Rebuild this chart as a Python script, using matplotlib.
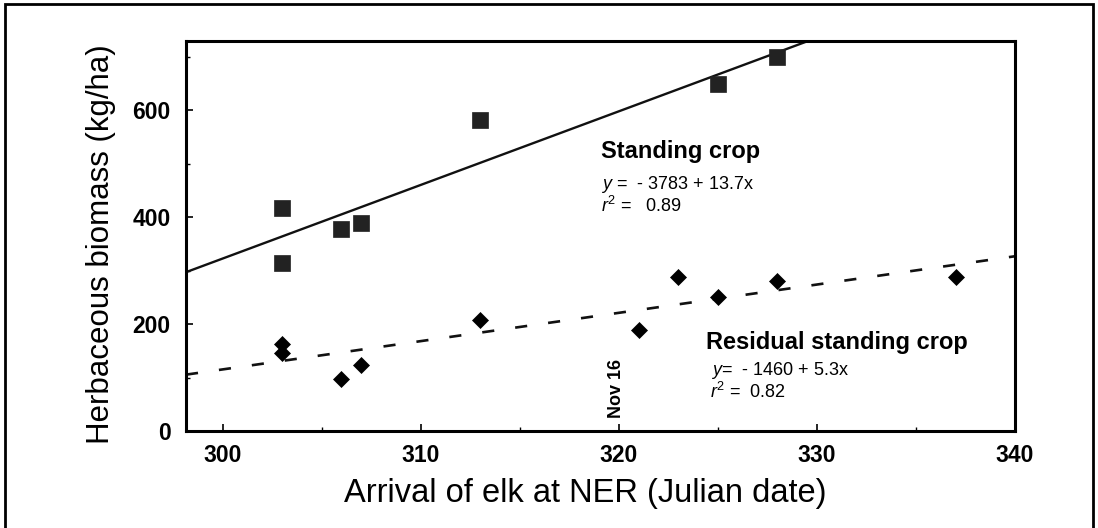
import numpy as np
import matplotlib
matplotlib.use("Agg")
import matplotlib.pyplot as plt
from matplotlib.patches import Rectangle

plt.rcParams['font.family'] = ['Liberation Sans', 'DejaVu Sans']
plt.rcParams['mathtext.fontset'] = 'custom'
plt.rcParams['mathtext.rm'] = 'Liberation Sans'
plt.rcParams['mathtext.it'] = 'Liberation Sans:italic'

# standing crop (squares)
sc_x = [303, 303, 306, 307, 313, 325, 328]
sc_y = [417, 315, 378, 389, 582, 650, 700]
# residual standing crop (diamonds)
rs_x = [303, 303, 306, 307, 313, 321, 323, 325, 328, 337]
rs_y = [162, 146, 97, 124, 207, 189, 289, 250, 280, 288]

xticks = [300, 310, 320, 330, 340]
yticks = [0, 200, 400, 600]

fig = plt.figure(figsize=(10.98, 5.28), dpi=100)
ax = fig.add_axes([0.1694, 0.1837, 0.755, 0.7386])

xmin, xmax = 298.15, 340
xx = np.linspace(xmin, xmax, 100)

# regression lines
p1 = np.polyfit(sc_x, sc_y, 1)
p2 = np.polyfit(rs_x, rs_y, 1)
ax.plot(xx, np.polyval(p1, xx), color='#111111', lw=1.7)
ax.plot(xx, np.polyval(p2, xx), color='#111111', lw=1.9, dashes=(4.6, 8))

ax.plot(sc_x, sc_y, 's', color='#222222', ms=11, mec='#222222', mew=0.5)
ax.plot(rs_x, rs_y, 'D', color='black', ms=8.3, mec='black', mew=0.5)

ax.set_xlim(xmin, xmax)
ax.set_ylim(0, 730)
ax.set_xticks(xticks)
ax.set_xticks(np.arange(305, 340, 10), minor=True)
ax.set_yticks(yticks)
ax.set_yticks([100, 300, 500, 700], minor=True)
ax.tick_params(axis='both', which='major', direction='in', length=5, width=1.2,
               labelsize=16.5, pad=9)
ax.tick_params(axis='y', which='major', pad=11)
ax.tick_params(axis='both', which='minor', direction='in', length=3, width=1.0)
for lab in ax.get_xticklabels() + ax.get_yticklabels():
    lab.set_fontweight('bold')
for s in ax.spines.values():
    s.set_linewidth(2.2)

ax.set_xlabel('Arrival of elk at NER (Julian date)', fontsize=23.5, labelpad=8)
ax.set_ylabel('Herbaceous biomass (kg/ha)', fontsize=22.5, labelpad=12)
ax.xaxis.label.set_x(0.482)
ax.yaxis.label.set_y(0.48)

ax.text(319.11, 524, 'Standing crop', fontsize=17, fontweight='bold', va='center')
ax.text(319.11, 462, r'$\it{y}$ =  - 3783 + 13.7x', fontsize=13, va='center')
ax.text(319.11, 421, r'$\it{r}^2$ =   0.89', fontsize=13, va='center')
ax.text(324.41, 166, 'Residual standing crop', fontsize=17, fontweight='bold', va='center')
ax.text(324.66, 114, r'$\it{y}$=  - 1460 + 5.3x', fontsize=13, va='center')
ax.text(324.6, 73, r'$\it{r}^2$ =  0.82', fontsize=13, va='center')
ax.text(319.9, 24, 'Nov 16', fontsize=13, fontweight='bold', rotation=90,
        ha='center', va='bottom')

# outer frame
fig.patches.append(Rectangle((5 / 1098, -0.05), 1088 / 1098, 1.05 - 4 / 528,
                             transform=fig.transFigure, fill=False,
                             lw=2, edgecolor='black'))

fig.savefig('out.png', dpi=100)
